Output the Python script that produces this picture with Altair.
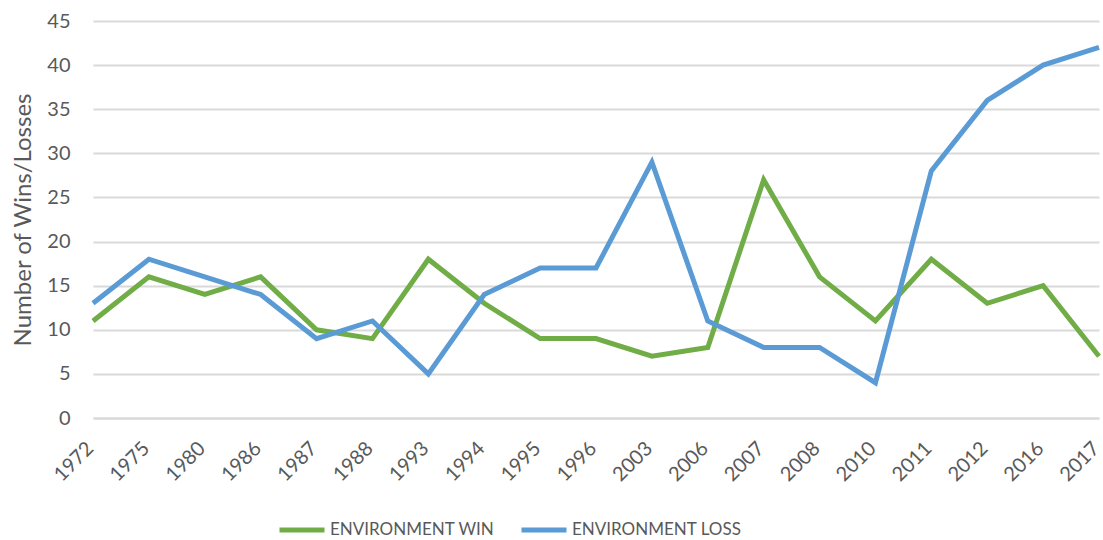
import altair as alt
import pandas as pd

years = ["1972", "1975", "1980", "1986", "1987", "1988", "1993", "1994", "1995", "1996",
         "2003", "2006", "2007", "2008", "2010", "2011", "2012", "2016", "2017"]
wins = [11, 16, 14, 16, 10, 9, 18, 13, 9, 9, 7, 8, 27, 16, 11, 18, 13, 15, 7]
losses = [13, 18, 16, 14, 9, 11, 5, 14, 17, 17, 29, 11, 8, 8, 4, 28, 36, 40, 42]
series = ["ENVIRONMENT WIN", "ENVIRONMENT LOSS"]
colors = ["#70AD47", "#5B9BD5"]

rows = []
for i, y in enumerate(years):
    rows.append({"year": y, "series": series[0], "value": wins[i], "order": i})
    rows.append({"year": y, "series": series[1], "value": losses[i], "order": i})
df = pd.DataFrame(rows)

FONT = "Lato"
TXT = "#595959"

chart = alt.Chart(df).mark_line(strokeWidth=5, strokeJoin="miter").encode(
    x=alt.X("year:O", sort=years, scale=alt.Scale(type="point", padding=0),
            axis=alt.Axis(title=None, labelAngle=-45, labelFontSize=20, labelColor=TXT,
                          labelFont=FONT, ticks=False, domainColor="#D9D9D9", domainWidth=2,
                          labelAlign="right", labelBaseline="middle", labelOffset=-3,
                          labelPadding=27, grid=False, labelOverlap=False, labelBound=False)),
    y=alt.Y("value:Q", scale=alt.Scale(domain=[0, 45], nice=False),
            axis=alt.Axis(title="Number of Wins/Losses", values=list(range(0, 50, 5)),
                          titleFontSize=24, titleFont=FONT, titleColor=TXT, titleFontWeight="normal",
                          labelFontSize=20, labelFont=FONT, labelColor=TXT, ticks=False, domain=False,
                          gridColor="#D9D9D9", gridWidth=2, labelPadding=23, titlePadding=11)),
    color=alt.Color("series:N", scale=alt.Scale(domain=series, range=colors),
                    legend=alt.Legend(title=None, orient="none", legendX=184, legendY=484,
                                      direction="horizontal", symbolType="stroke", symbolStrokeWidth=5,
                                      symbolSize=2025, labelFontSize=17, labelFont=FONT, labelColor=TXT,
                                      labelLimit=0, columnPadding=16, labelOffset=3)),
    order="order:Q",
).properties(
    width=1006, height=397,
    autosize=alt.AutoSizeParams(type="none"),
    padding={"left": 93, "top": 21, "right": 4, "bottom": 122},
).configure_view(stroke=None)

chart.save("out.html", embed_options={"renderer": "svg", "actions": False})
